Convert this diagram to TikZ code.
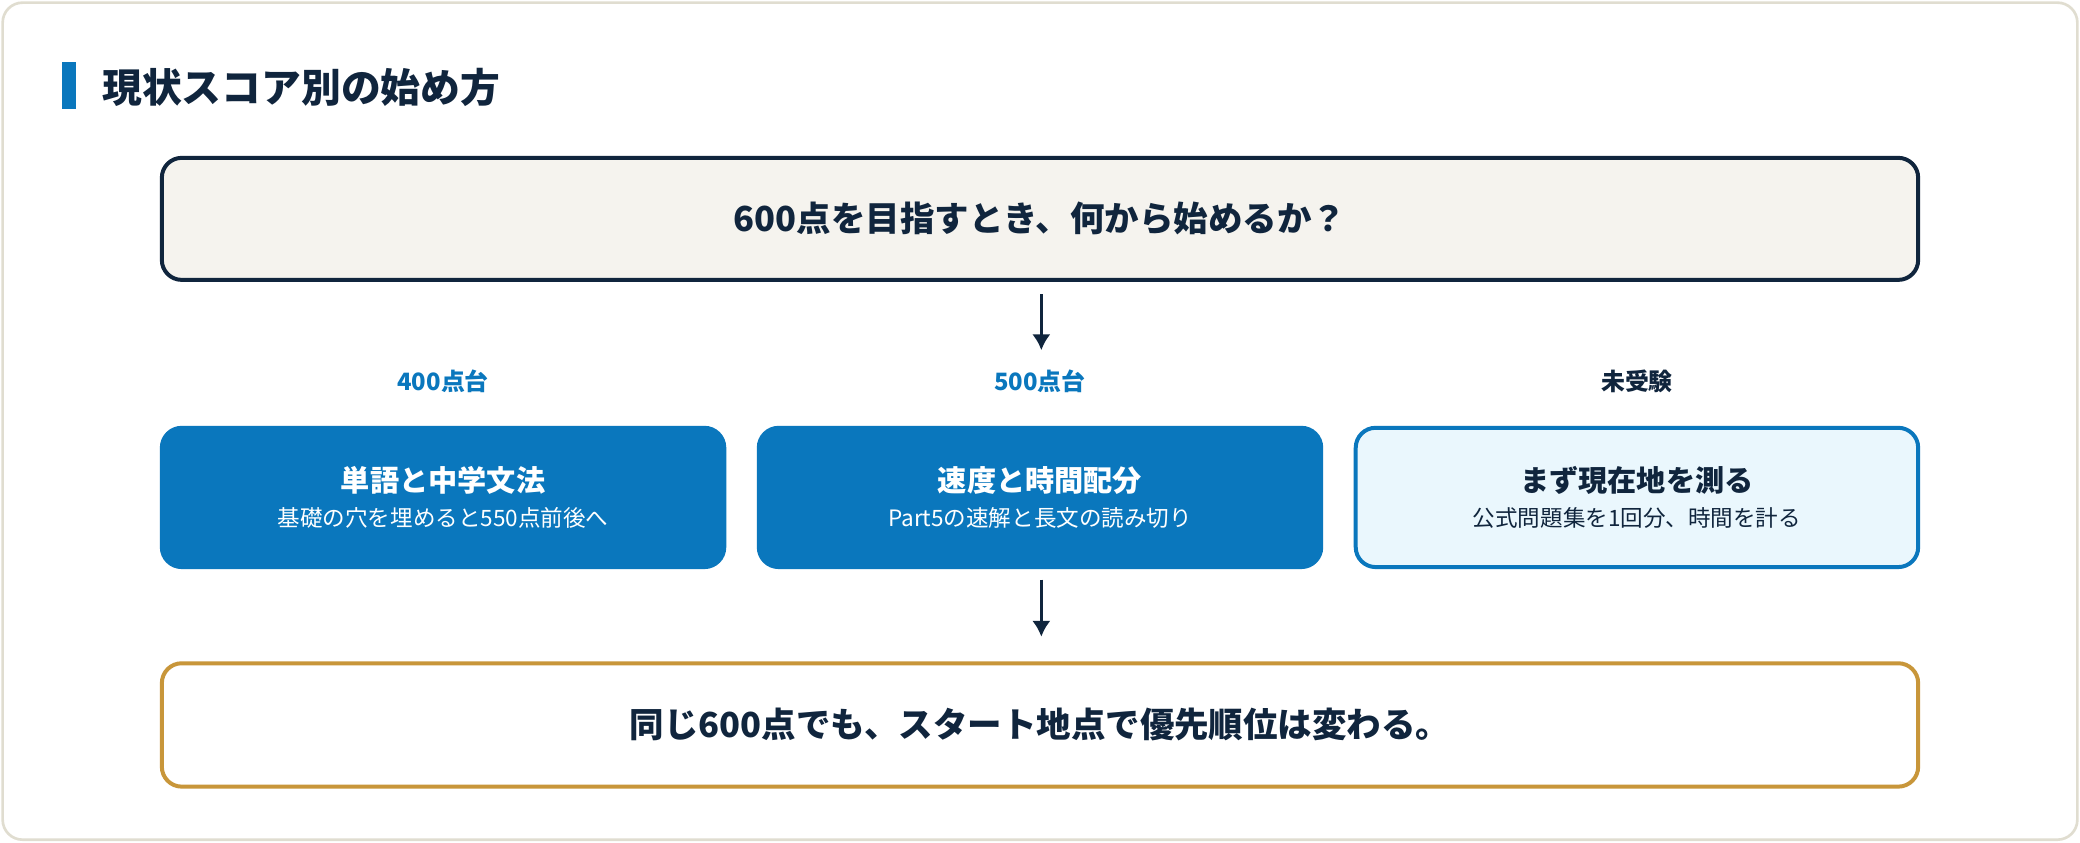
\documentclass[tikz,border=0pt]{standalone}
\usepackage{fontspec}
\newfontfamily\jp{Noto Sans CJK JP}
\usetikzlibrary{positioning}
\definecolor{navy}{HTML}{10253D}
\definecolor{tblue}{HTML}{0A77BD}
\definecolor{paleblue}{HTML}{EAF7FD}
\definecolor{cream}{HTML}{F5F3EE}
\definecolor{gold}{HTML}{C8963A}
\definecolor{frame}{HTML}{E0DDD0}
\tikzset{
  box/.style={rounded corners=7.5pt, line width=1.5pt, inner sep=0pt},
  plan/.style={box, fill=tblue, draw=tblue, text=white, minimum width=212pt, minimum height=52.5pt, align=center},
  score/.style={font=\jp\bfseries\fontsize{9}{11}\selectfont, text=tblue},
  flow/.style={-{Latex[length=6pt,width=7pt]}, line width=1.2pt, draw=navy},
}
\usetikzlibrary{arrows.meta}
\begin{document}
\begin{tikzpicture}[x=0.5pt,y=-0.5pt,font=\jp]
  \useasboundingbox (0,0) rectangle (1568,635);
  \draw[frame, line width=1pt, fill=white, rounded corners=7.5pt] (2,2) rectangle (1566,633);
  % heading
  \fill[tblue] (47,47) rectangle (57,82);
  \node[anchor=west, text=navy, font=\jp\bfseries\fontsize{15}{18}\selectfont] (title) at (70,66) {現状スコア別の始め方};
  % question
  \node[box, draw=navy, fill=cream, minimum width=662pt, minimum height=46pt, text=navy,
        font=\jp\bfseries\fontsize{13}{16}\selectfont] (goal) at (784,165) {600点を目指すとき、何から始めるか？};
  % three start points
  \node[plan] (p400) at (334,375) {{\bfseries\fontsize{11}{14}\selectfont 単語と中学文法}\\[1pt]{\fontsize{8.5}{11}\selectfont 基礎の穴を埋めると550点前後へ}};
  \node[plan] (p500) at (784,375) {{\bfseries\fontsize{11}{14}\selectfont 速度と時間配分}\\[1pt]{\fontsize{8.5}{11}\selectfont Part5の速解と長文の読み切り}};
  \node[plan, fill=paleblue, text=navy] (pnone) at (1234,375) {{\bfseries\fontsize{11}{14}\selectfont まず現在地を測る}\\[1pt]{\fontsize{8.5}{11}\selectfont 公式問題集を1回分、時間を計る}};
  \node[score, above=9pt of p400] (s400) {400点台};
  \node[score, above=9pt of p500] (s500) {500点台};
  \node[score, text=navy, above=9pt of pnone] (snone) {未受験};
  % conclusion
  \node[box, draw=gold, fill=white, minimum width=662pt, minimum height=46.5pt, text=navy,
        font=\jp\bfseries\fontsize{13}{16}\selectfont] (result) at (784,546.5) {同じ600点でも、スタート地点で優先順位は変わる。};
  \coordinate (a1) at (785,222);
  \coordinate (a2) at (785,264);
  \coordinate (b1) at (785,437);
  \coordinate (b2) at (785,480);
  \draw[flow] (a1) -- (a2);
  \draw[flow] (b1) -- (b2);
\end{tikzpicture}
\end{document}
